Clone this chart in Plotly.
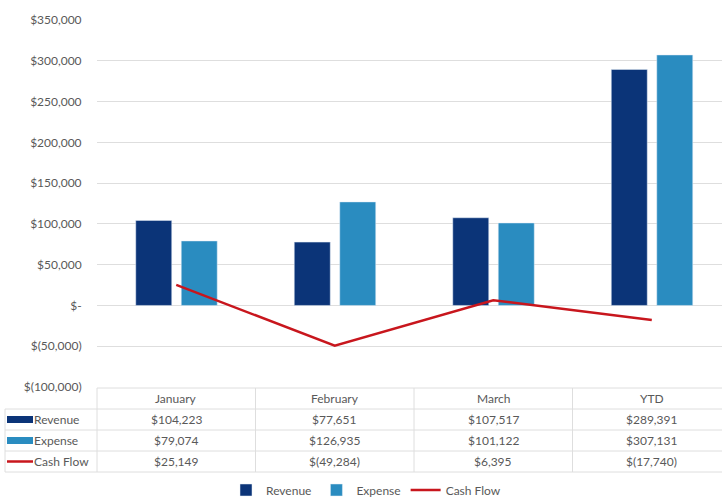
import plotly.graph_objects as go

categories = ["January", "February", "March", "YTD"]
revenue = [104223, 77651, 107517, 289391]
expense = [79074, 126935, 101122, 307131]
cash_flow = [25149, -49284, 6395, -17740]
revenue_text = ["$104,223", "$77,651", "$107,517", "$289,391"]
expense_text = ["$79,074", "$126,935", "$101,122", "$307,131"]
cash_text = ["$25,149", "$(49,284)", "$6,395", "$(17,740)"]
tick_vals = [-100000, -50000, 0, 50000, 100000, 150000, 200000, 250000, 300000, 350000]
tick_text = ["$(100,000)", "$(50,000)", "$-", "$50,000", "$100,000", "$150,000",
             "$200,000", "$250,000", "$300,000", "$350,000"]

C_REV = "#0B3478"
C_EXP = "#2A8CC0"
C_CF = "#C8161D"
GRID = "#DEDEDE"
TXT = "#595959"
FONT = "Lato"

W, H = 722, 497
ML, MR, MT, MB = 97, 0, 20, 110
PW = W - ML - MR
PH = H - MT - MB

def px_x(px):
    return (px - ML) / PW

def px_y(py):
    return (H - MB - py) / PH

xidx = list(range(len(categories)))

fig = go.Figure()
fig.add_trace(go.Bar(x=xidx, y=revenue, name="Revenue", marker_color=C_REV,
                     width=0.227, offset=-0.2555))
fig.add_trace(go.Bar(x=xidx, y=expense, name="Expense", marker_color=C_EXP,
                     width=0.227, offset=0.0315))
fig.add_trace(go.Scatter(x=xidx, y=cash_flow, name="Cash Flow", mode="lines",
                         line=dict(color=C_CF, width=2.5)))

shapes = []
annotations = []

row_tops = [388, 409, 430, 451, 472]
shapes.append(dict(type="line", xref="paper", yref="paper", x0=0, x1=1,
                   y0=px_y(row_tops[0]), y1=px_y(row_tops[0]), line=dict(color=GRID, width=1)))
for r in row_tops[1:]:
    shapes.append(dict(type="line", xref="paper", yref="paper", x0=px_x(5), x1=1,
                       y0=px_y(r), y1=px_y(r), line=dict(color=GRID, width=1)))
shapes.append(dict(type="line", xref="paper", yref="paper", x0=0, x1=0,
                   y0=px_y(row_tops[0]), y1=px_y(row_tops[-1]), line=dict(color=GRID, width=1)))
shapes.append(dict(type="line", xref="paper", yref="paper", x0=px_x(5), x1=px_x(5),
                   y0=px_y(row_tops[1]), y1=px_y(row_tops[-1]), line=dict(color=GRID, width=1)))
for b in [0.5, 1.5, 2.5]:
    shapes.append(dict(type="line", xref="x", yref="paper", x0=b, x1=b,
                       y0=px_y(row_tops[0]), y1=px_y(row_tops[-1]), line=dict(color=GRID, width=1)))

row_centers = [(row_tops[i] + row_tops[i + 1]) / 2 for i in range(4)]

for i, c in enumerate(categories):
    annotations.append(dict(x=i, y=px_y(row_centers[0]), xref="x", yref="paper",
                            xanchor="center", yanchor="middle",
                            text=c, showarrow=False, font=dict(size=12, color=TXT, family=FONT)))
for row, texts in zip(row_centers[1:], [revenue_text, expense_text, cash_text]):
    for i, t in enumerate(texts):
        annotations.append(dict(x=i, y=px_y(row), xref="x", yref="paper",
                                xanchor="center", yanchor="middle",
                                text=t, showarrow=False, font=dict(size=12, color=TXT, family=FONT)))

labels = ["Revenue", "Expense", "Cash Flow"]
colors = [C_REV, C_EXP, C_CF]
for k, (lab, col) in enumerate(zip(labels, colors)):
    yc = row_centers[k + 1]
    if lab == "Cash Flow":
        shapes.append(dict(type="line", xref="paper", yref="paper", x0=px_x(7), x1=px_x(33),
                           y0=px_y(yc), y1=px_y(yc), line=dict(color=col, width=2.5)))
    else:
        shapes.append(dict(type="rect", xref="paper", yref="paper", x0=px_x(7), x1=px_x(33),
                           y0=px_y(yc + 3.5), y1=px_y(yc - 3.5), fillcolor=col, line=dict(width=0)))
    annotations.append(dict(x=px_x(32), y=px_y(yc), xref="paper", yref="paper", text=lab,
                            xanchor="left", yanchor="middle", showarrow=False,
                            font=dict(size=12, color=TXT, family=FONT)))

fig.update_layout(
    width=W, height=H,
    margin=dict(l=ML, r=MR, t=MT, b=MB, autoexpand=False),
    paper_bgcolor="white", plot_bgcolor="white",
    font=dict(family=FONT, size=12, color=TXT),
    barmode="group",
    showlegend=True,
    legend=dict(orientation="h", x=px_x(366), xanchor="center", y=px_y(490), yanchor="middle",
                font=dict(size=12, color=TXT, family=FONT),
                tracegroupgap=0),
    xaxis=dict(range=[-0.5, 3.443], showticklabels=False, showgrid=False, zeroline=False,
               showline=False, ticks=""),
    yaxis=dict(range=[-100000, 350000], tickvals=tick_vals, ticktext=tick_text,
               showgrid=True, gridcolor=GRID, gridwidth=1, zeroline=False,
               showline=False, ticks="outside", ticklen=12, tickcolor="rgba(0,0,0,0)",
               tickfont=dict(size=12, color=TXT, family=FONT)),
    shapes=shapes,
    annotations=annotations,
)

fig.write_html("out.html", config={"displayModeBar": False},
               post_script="document.body.style.margin='0';document.body.style.overflow='hidden';")
